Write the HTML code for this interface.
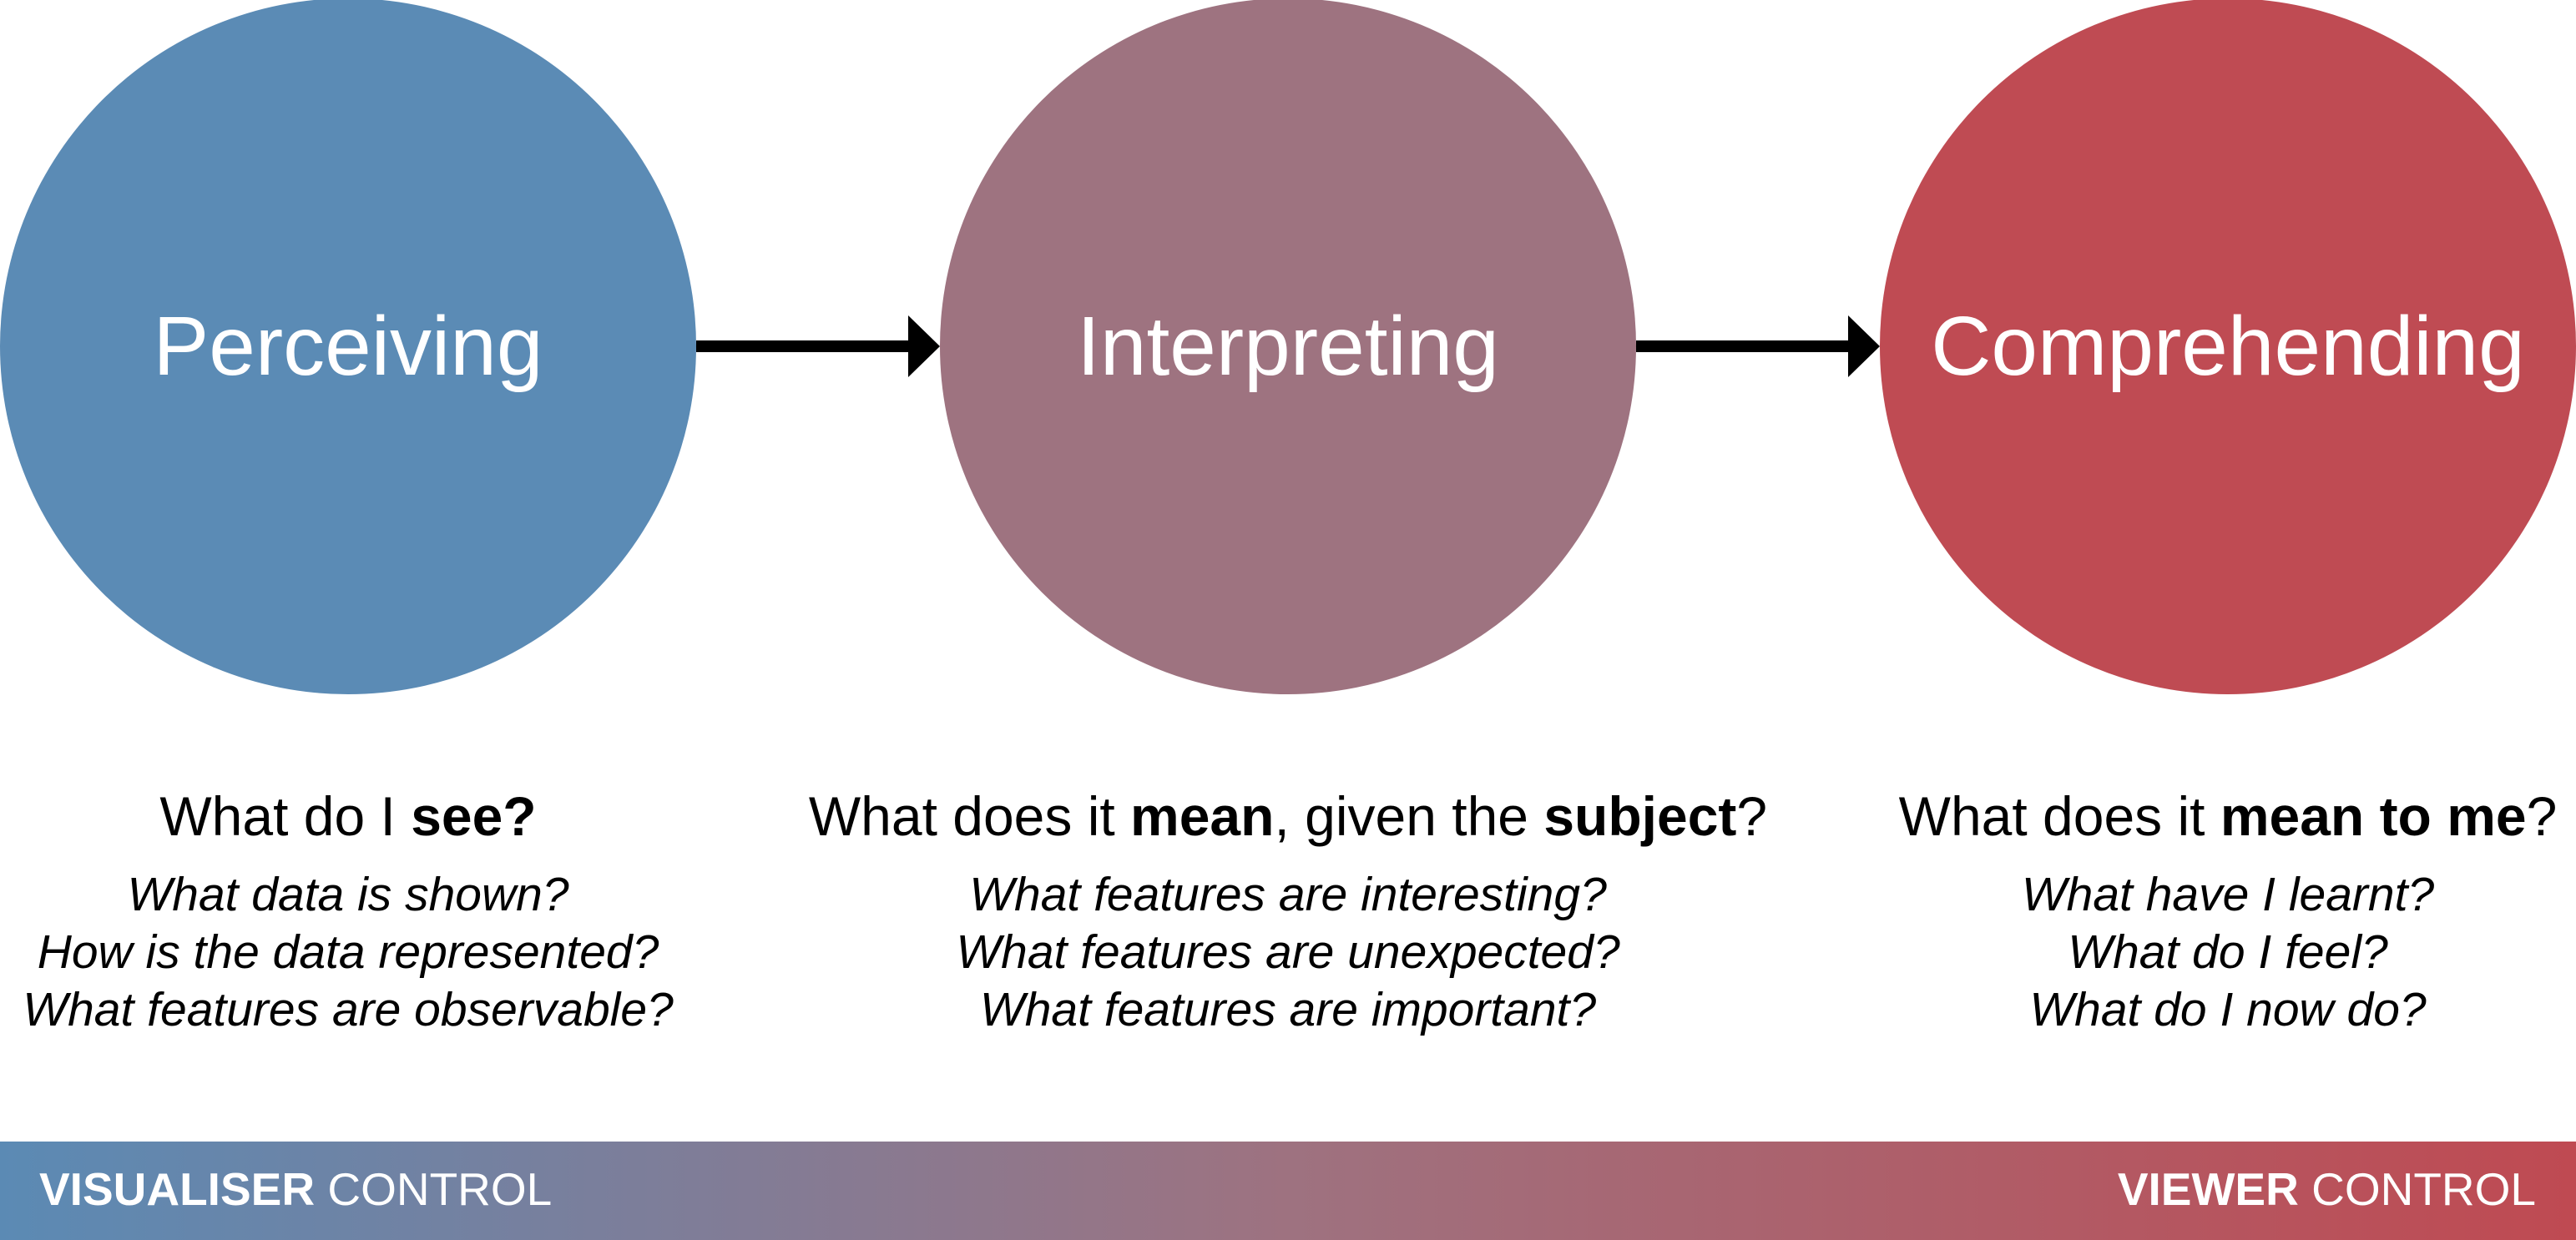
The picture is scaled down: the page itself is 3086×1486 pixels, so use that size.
<!DOCTYPE html>
<html><head><meta charset="utf-8"><style>
html,body{margin:0;padding:0;background:#fff}
body{width:3086px;height:1486px;position:relative;overflow:hidden;font-family:"Liberation Sans","DejaVu Sans",sans-serif}
.c{position:absolute;width:834px;height:834px;border-radius:50%;top:-2px;display:flex;align-items:center;justify-content:center;color:#fff;font-size:100px}
.col{position:absolute;top:938px;width:1400px;text-align:center;color:#000;white-space:nowrap}
.h{font-size:66px;line-height:80px;height:100px}
.q{font-style:italic;font-size:57px;line-height:69px}
.bar{position:absolute;left:0;top:1368px;width:3086px;height:118px;background:linear-gradient(to right,#5b8ab4,#9e7280 50%,#bf4a52)}
.bt{position:absolute;top:1393px;color:#fff;font-size:55px}
</style></head><body>
<div class="c" style="left:0;background:#5b8bb5">Perceiving</div>
<div class="c" style="left:1126px;background:#9e7380">Interpreting</div>
<div class="c" style="left:2252px;background:#bf4b53">Comprehending</div>
<svg style="position:absolute;left:0;top:0" width="3086" height="840">
<line x1="834" y1="415" x2="1090" y2="415" stroke="#000" stroke-width="14"/>
<polygon points="1088,378 1126,415 1088,452" fill="#000"/>
<line x1="1960" y1="415" x2="2216" y2="415" stroke="#000" stroke-width="14"/>
<polygon points="2214,378 2252,415 2214,452" fill="#000"/>
</svg>
<div class="col" style="left:-283px"><div class="h">What do I <b>see?</b></div>
<div class="q">What data is shown?<br>How is the data represented?<br>What features are observable?</div></div>
<div class="col" style="left:843px"><div class="h">What does it <b>mean</b>, given the <b>subject</b>?</div>
<div class="q">What features are interesting?<br>What features are unexpected?<br>What features are important?</div></div>
<div class="col" style="left:1969px"><div class="h">What does it <b>mean to me</b>?</div>
<div class="q">What have I learnt?<br>What do I feel?<br>What do I now do?</div></div>
<div class="bar"></div>
<div class="bt" style="left:47px"><b>VISUALISER</b> CONTROL</div>
<div class="bt" style="right:48px"><b>VIEWER</b> CONTROL</div>
</body></html>
